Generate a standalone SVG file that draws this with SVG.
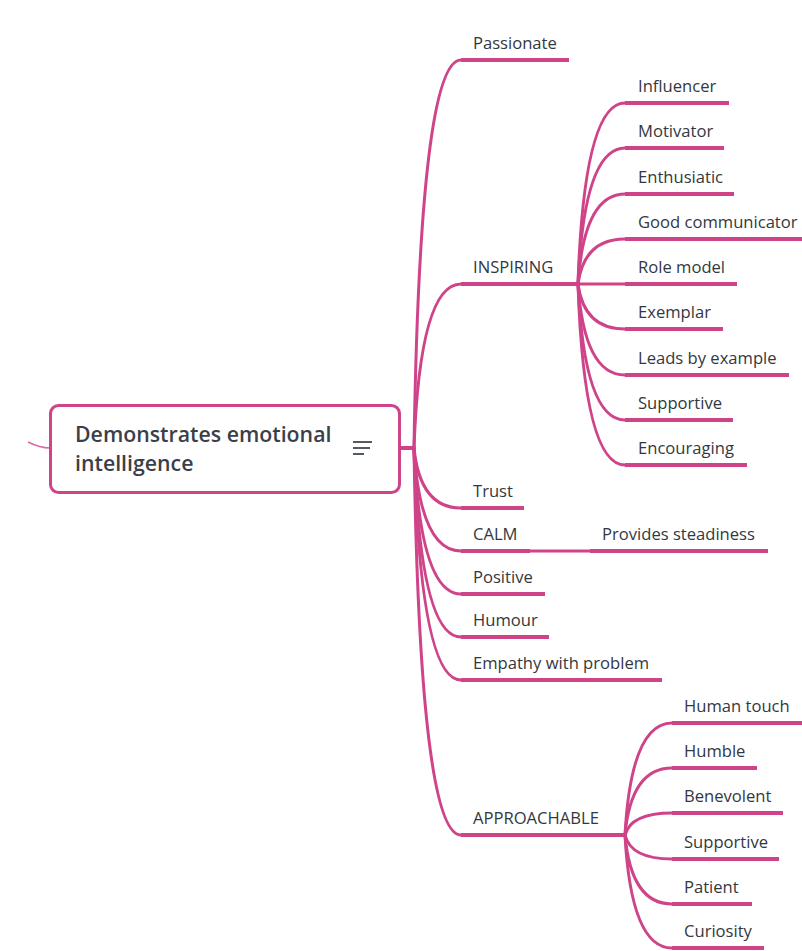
<svg xmlns="http://www.w3.org/2000/svg" width="802" height="951" viewBox="0 0 802 951">
  <style>
    .bg { fill: #ffffff; }
    .edge { fill: none; stroke: #cf4388; stroke-width: 3; stroke-linecap: round; }
    .thin { fill: none; stroke: #d0448a; stroke-width: 1.4; opacity: 0.8; }
    .bar { stroke: #cf4388; stroke-width: 4; }
    .lbl { font-family: "Open Sans", "Liberation Sans", sans-serif; font-size: 16.6px; fill: #333840; }
    .root-box { fill: #ffffff; stroke: #cf4388; stroke-width: 3; }
    .root-txt { font-family: "Open Sans", "Liberation Sans", sans-serif; font-size: 21.3px; font-weight: 600; fill: #3a3f4a; }
    .menu { stroke: #555a62; stroke-width: 2; }
  </style>
  <rect class="bg" x="0" y="0" width="802" height="951"/>

  <g id="connectors">
    <!-- incoming edge on the left of the root -->
    <path class="thin" d="M 28 442 Q 40 448 50 448"/>
    <!-- root stub -->
    <line class="bar" x1="400" y1="448" x2="414" y2="448"/>
    <!-- level-1 curves from root -->
    <path class="edge" d="M 414 448 Q 420 60 461 60"/>
    <path class="edge" d="M 414 448 Q 420 284 461 284"/>
    <path class="edge" d="M 414 448 Q 420 508 461 508"/>
    <path class="edge" d="M 414 448 Q 420 551 461 551"/>
    <path class="edge" d="M 414 448 Q 420 594 461 594"/>
    <path class="edge" d="M 414 448 Q 420 637 461 637"/>
    <path class="edge" d="M 414 448 Q 420 680 461 680"/>
    <path class="edge" d="M 414 448 Q 420 835 461 835"/>
    <!-- INSPIRING fan -->
    <path class="edge" d="M 578 284 Q 584 103 625 103"/>
    <path class="edge" d="M 578 284 Q 584 148 625 148"/>
    <path class="edge" d="M 578 284 Q 584 194 625 194"/>
    <path class="edge" d="M 578 284 Q 584 239 625 239"/>
    <path class="edge" d="M 578 284 L 625 284"/>
    <path class="edge" d="M 578 284 Q 584 329 625 329"/>
    <path class="edge" d="M 578 284 Q 584 375 625 375"/>
    <path class="edge" d="M 578 284 Q 584 420 625 420"/>
    <path class="edge" d="M 578 284 Q 584 465 625 465"/>
    <!-- CALM link -->
    <path class="edge" d="M 530 551 L 590 551"/>
    <!-- APPROACHABLE fan -->
    <path class="edge" d="M 625 835 Q 631 723 672 723"/>
    <path class="edge" d="M 625 835 Q 631 768 672 768"/>
    <path class="edge" d="M 625 835 Q 631 813 672 813"/>
    <path class="edge" d="M 625 835 Q 631 859 672 859"/>
    <path class="edge" d="M 625 835 Q 631 904 672 904"/>
    <path class="edge" d="M 625 835 Q 631 948 672 948"/>
  </g>

  <g id="root">
    <rect class="root-box" x="50.5" y="405.5" width="349" height="87" rx="8"/>
    <text class="root-txt" x="75" y="442">Demonstrates emotional</text>
    <text class="root-txt" x="75" y="471">intelligence</text>
    <line class="menu" x1="353" y1="442" x2="372" y2="442"/>
    <line class="menu" x1="353" y1="448" x2="370" y2="448"/>
    <line class="menu" x1="353" y1="454" x2="364" y2="454"/>
  </g>

  <g id="passionate"><line class="bar" x1="461" y1="60" x2="569" y2="60"/><text class="lbl" x="473" y="49">Passionate</text></g>
  <g id="inspiring"><line class="bar" x1="461" y1="284" x2="578" y2="284"/><text class="lbl" x="473" y="273">INSPIRING</text></g>
  <g id="influencer"><line class="bar" x1="625" y1="103" x2="729" y2="103"/><text class="lbl" x="638" y="92">Influencer</text></g>
  <g id="motivator"><line class="bar" x1="625" y1="148" x2="724" y2="148"/><text class="lbl" x="638" y="137">Motivator</text></g>
  <g id="enthusiatic"><line class="bar" x1="625" y1="194" x2="734" y2="194"/><text class="lbl" x="638" y="183">Enthusiatic</text></g>
  <g id="good-communicator"><line class="bar" x1="625" y1="239" x2="802" y2="239"/><text class="lbl" x="638" y="228">Good communicator</text></g>
  <g id="role-model"><line class="bar" x1="625" y1="284" x2="737" y2="284"/><text class="lbl" x="638" y="273">Role model</text></g>
  <g id="exemplar"><line class="bar" x1="625" y1="329" x2="723" y2="329"/><text class="lbl" x="638" y="318">Exemplar</text></g>
  <g id="leads-by-example"><line class="bar" x1="625" y1="375" x2="789" y2="375"/><text class="lbl" x="638" y="364">Leads by example</text></g>
  <g id="supportive-1"><line class="bar" x1="625" y1="420" x2="733" y2="420"/><text class="lbl" x="638" y="409">Supportive</text></g>
  <g id="encouraging"><line class="bar" x1="625" y1="465" x2="747" y2="465"/><text class="lbl" x="638" y="454">Encouraging</text></g>
  <g id="trust"><line class="bar" x1="461" y1="508" x2="524" y2="508"/><text class="lbl" x="473" y="497">Trust</text></g>
  <g id="calm"><line class="bar" x1="461" y1="551" x2="530" y2="551"/><text class="lbl" x="473" y="540">CALM</text></g>
  <g id="provides-steadiness"><line class="bar" x1="590" y1="551" x2="768" y2="551"/><text class="lbl" x="602" y="540">Provides steadiness</text></g>
  <g id="positive"><line class="bar" x1="461" y1="594" x2="545" y2="594"/><text class="lbl" x="473" y="583">Positive</text></g>
  <g id="humour"><line class="bar" x1="461" y1="637" x2="549" y2="637"/><text class="lbl" x="473" y="626">Humour</text></g>
  <g id="empathy"><line class="bar" x1="461" y1="680" x2="662" y2="680"/><text class="lbl" x="473" y="669">Empathy with problem</text></g>
  <g id="approachable"><line class="bar" x1="461" y1="835" x2="625" y2="835"/><text class="lbl" x="473" y="824">APPROACHABLE</text></g>
  <g id="human-touch"><line class="bar" x1="672" y1="723" x2="802" y2="723"/><text class="lbl" x="684" y="712">Human touch</text></g>
  <g id="humble"><line class="bar" x1="672" y1="768" x2="757" y2="768"/><text class="lbl" x="684" y="757">Humble</text></g>
  <g id="benevolent"><line class="bar" x1="672" y1="813" x2="783" y2="813"/><text class="lbl" x="684" y="802">Benevolent</text></g>
  <g id="supportive-2"><line class="bar" x1="672" y1="859" x2="779" y2="859"/><text class="lbl" x="684" y="848">Supportive</text></g>
  <g id="patient"><line class="bar" x1="672" y1="904" x2="752" y2="904"/><text class="lbl" x="684" y="893">Patient</text></g>
  <g id="curiosity"><line class="bar" x1="672" y1="948" x2="764" y2="948"/><text class="lbl" x="684" y="937">Curiosity</text></g>
</svg>
